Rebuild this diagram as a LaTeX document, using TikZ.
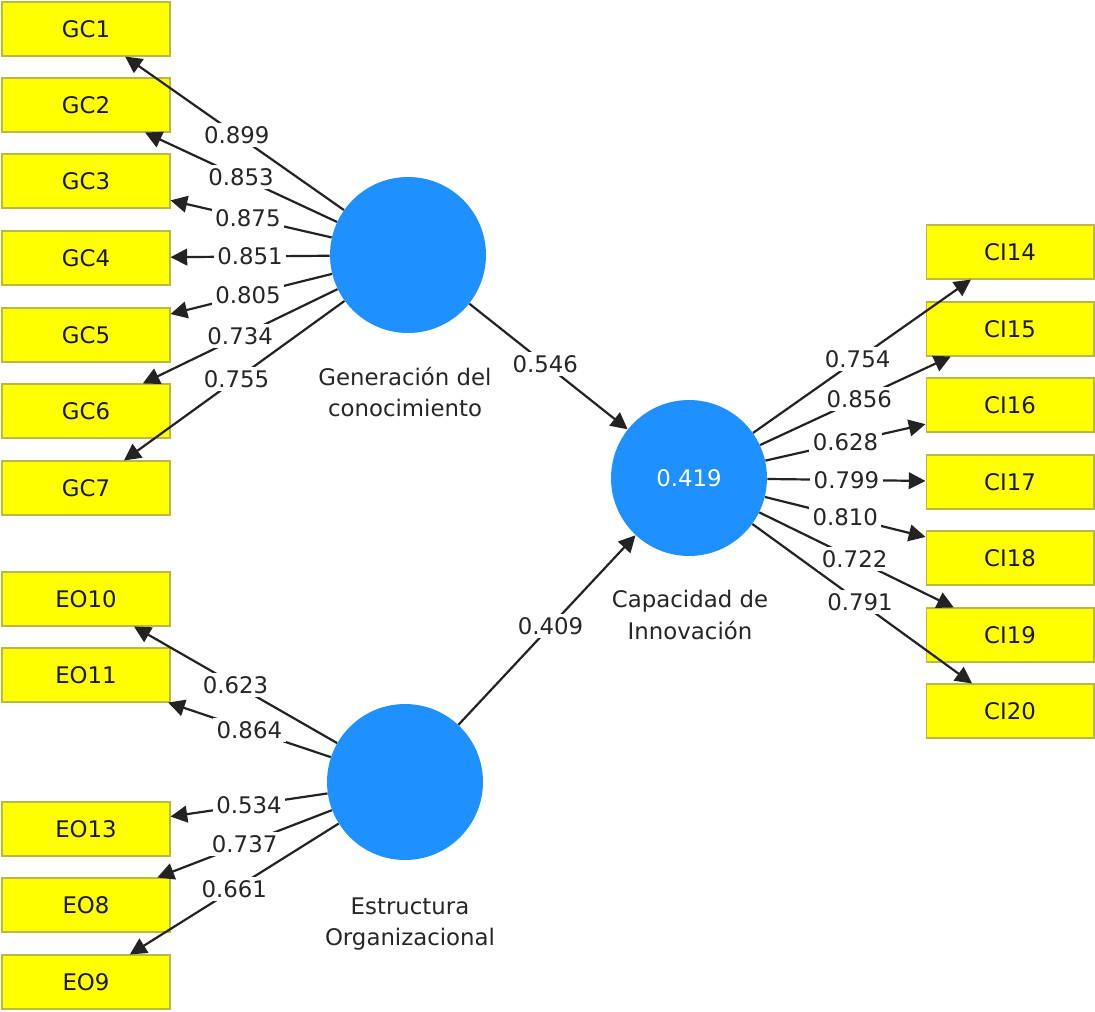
\documentclass[tikz,border=0pt]{standalone}
\usepackage{fontspec}
\setmainfont{DejaVu Sans}
\usetikzlibrary{arrows.meta}
\definecolor{plsblue}{RGB}{30,144,255}
\definecolor{indyellow}{RGB}{255,255,0}
\definecolor{indborder}{RGB}{185,185,70}
\definecolor{linegray}{RGB}{35,35,35}
\begin{document}
\begin{tikzpicture}[x=0.02cm,y=-0.02cm,
  ind/.style={draw=indborder, line width=0.6pt, fill=indyellow, minimum width=3.36cm, minimum height=1.08cm, inner sep=0pt, font=\fontsize{13}{15}\selectfont, text=black!90},
  lv/.style={circle, fill=plsblue, minimum size=3.12cm, inner sep=0pt, font=\fontsize{13}{15}\selectfont, text=white},
  lvname/.style={align=center, font=\fontsize{13}{18}\selectfont, text=black!85},
  edge/.style={draw=linegray, line width=1.25pt, -{Triangle[length=9.5pt,width=9.5pt]}},
  coef/.style={fill=white, inner sep=2pt, font=\fontsize{13}{15}\selectfont, text=black!85}
]
\useasboundingbox (0,0) rectangle (1095,1011);

% indicator boxes
\node[ind] (gc1) at (86,29) {GC1};
\node[ind] (gc2) at (86,105) {GC2};
\node[ind] (gc3) at (86,181) {GC3};
\node[ind] (gc4) at (86,258) {GC4};
\node[ind] (gc5) at (86,335) {GC5};
\node[ind] (gc6) at (86,411) {GC6};
\node[ind] (gc7) at (86,488) {GC7};

\node[ind] (eo10) at (86,599) {EO10};
\node[ind] (eo11) at (86,675) {EO11};
\node[ind] (eo13) at (86,829) {EO13};
\node[ind] (eo8) at (86,905) {EO8};
\node[ind] (eo9) at (86,982) {EO9};

\node[ind] (ci14) at (1010,252) {CI14};
\node[ind] (ci15) at (1010,329) {CI15};
\node[ind] (ci16) at (1010,405) {CI16};
\node[ind] (ci17) at (1010,482) {CI17};
\node[ind] (ci18) at (1010,558) {CI18};
\node[ind] (ci19) at (1010,635) {CI19};
\node[ind] (ci20) at (1010,711) {CI20};

% latent variables
\node[lv] (gc) at (408,255) {};
\node[lv] (ci) at (689,478) {0.419};
\node[lv] (eo) at (405,782) {};

\node[lvname] (gcname) at (405,392) {Generación del\\conocimiento};
\node[lvname] (ciname) at (690,615) {Capacidad de\\Innovación};
\node[lvname] (eoname) at (410,924) {Estructura\\Organizacional};

% connectors
\foreach \t in {gc1,gc2,gc3,gc4,gc5,gc6,gc7} \draw[edge] (gc) -- (\t);
\foreach \t in {eo10,eo11,eo13,eo8,eo9} \draw[edge] (eo) -- (\t);
\foreach \t in {ci14,ci15,ci16,ci17,ci18,ci19,ci20} \draw[edge] (ci) -- (\t);
\draw[edge] (gc) -- (ci);
\draw[edge] (eo) -- (ci);

% coefficients
\foreach \t/\v/\p in {gc1/0.899/0.49,gc2/0.853/0.5,gc3/0.875/0.52,gc4/0.851/0.5,gc5/0.805/0.52,gc6/0.734/0.5,gc7/0.755/0.49}
  \path (gc) -- node[coef,pos=\p]{\v} (\t);
\foreach \t/\v/\p in {eo10/0.623/0.5,eo11/0.864/0.5,eo13/0.534/0.5,eo8/0.737/0.5,eo9/0.661/0.5}
  \path (eo) -- node[coef,pos=\p]{\v} (\t);
\foreach \t/\v/\p in {ci14/0.754/0.48,ci15/0.856/0.52,ci16/0.628/0.5,ci17/0.799/0.5,ci18/0.810/0.5,ci19/0.722/0.49,ci20/0.791/0.49}
  \path (ci) -- node[coef,pos=\p]{\v} (\t);
\path (gc) -- node[coef,pos=0.48]{0.546} (ci);
\path (eo) -- node[coef,pos=0.52]{0.409} (ci);
\end{tikzpicture}
\end{document}
